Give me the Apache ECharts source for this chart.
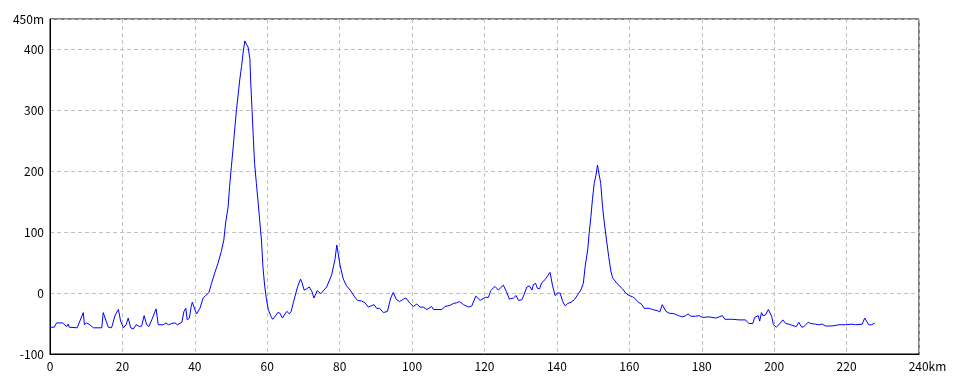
<!DOCTYPE html>
<html>
<head>
<meta charset="utf-8">
<script src="https://cdn.jsdelivr.net/npm/echarts@6/dist/echarts.min.js"></script>
<style>html,body{margin:0;padding:0;background:#fff;}#c{width:960px;height:384px;}</style>
</head>
<body>
<div id="c"></div>
<script>
var distanceKm = [0,1.2,1.8,3.5,4.6,5.0,5.3,5.5,7.5,9.2,9.5,10.1,11.0,12.0,14.3,14.7,15.5,16.1,17.0,18.0,18.9,19.5,20.3,21.0,21.6,22.3,23.0,23.8,24.1,24.7,25.3,26.0,26.7,27.3,28.1,29.3,29.9,30.2,31.3,32.0,32.7,33.6,34.0,34.5,35.2,36.4,37.0,37.5,37.9,38.5,39.0,39.3,40.0,40.5,41.4,42.3,43.0,43.9,44.6,45.5,46.4,47.3,48.0,48.5,49.2,49.6,50.1,50.6,51.0,51.5,52.0,52.4,52.9,53.3,53.8,54.2,54.7,55.2,55.4,55.8,56.1,56.5,57.0,57.5,57.9,58.4,58.8,59.3,59.8,60.3,61.0,61.5,62.2,62.9,63.5,64.2,64.7,65.4,66.1,66.6,67.2,67.9,68.4,69.2,69.6,70.2,70.9,71.6,72.3,72.9,73.8,74.8,76.4,77.8,78.7,79.2,79.7,80.1,81.0,81.9,82.9,84.0,84.9,86.1,87.0,87.9,88.7,89.5,90.2,91.0,92.1,93.2,94.1,94.8,95.6,96.5,97.6,98.3,99.3,100.4,101.3,102.2,103.1,104.1,105.4,105.9,108.2,109.1,110.5,111.4,112.3,113.1,114.2,115.6,116.5,117.6,118.8,120.2,121.1,121.7,122.9,123.8,125.2,126.0,126.9,128.0,128.7,129.4,130.3,130.9,131.7,132.4,133.1,133.5,134.1,134.6,135.2,135.8,136.7,137.4,138.1,138.8,139.5,140.2,140.9,141.6,142.3,143.0,143.9,144.8,145.7,146.6,147.3,147.8,148.5,148.9,149.4,149.8,150.3,150.8,151.2,151.7,152.1,152.6,153.1,153.7,154.3,154.9,155.4,156.3,157.2,158.1,159.0,159.9,160.9,161.6,162.3,163.5,164.1,165.5,166.4,167.8,168.4,169.1,170.1,171.0,172.4,173.6,174.7,175.6,176.2,177.0,178.3,179.3,180.2,182.0,182.5,183.9,184.8,185.7,186.4,188.4,190.3,192.1,193.0,194.1,194.6,195.1,195.6,196.0,196.5,196.9,197.6,198.4,198.8,199.3,199.8,200.6,201.3,202.4,203.2,204.1,205.5,206.1,206.8,207.6,208.2,209.4,210.1,210.5,211.4,212.3,213.3,214.2,216.0,216.5,217.9,218.3,219.7,221.5,222.5,224.3,225.0,226.1,226.9,227.8];
var elevationM = [-56,-56,-49,-49,-55,-51,-56,-57,-57,-32,-52,-49,-52,-57,-57,-32,-46,-56,-57,-36,-27,-46,-57,-52,-41,-57,-59,-52,-49,-55,-54,-37,-52,-55,-44,-26,-52,-55,-52,-49,-52,-50,-52,-49,-52,-48,-30,-25,-44,-41,-22,-15,-27,-34,-25,-8,-4,1,16,33,49,68,87,115,142,175,208,240,268,301,328,350,372,393,414,409,404,385,350,301,262,213,180,148,120,87,44,11,-11,-27,-38,-43,-38,-32,-33,-41,-36,-30,-34,-30,-16,0,11,23,17,5,7,10,3,-8,4,-1,10,30,55,79,81,46,23,12,5,-5,-12,-13,-16,-23,-21,-19,-25,-25,-32,-30,-8,1,-10,-14,-10,-8,-16,-22,-18,-23,-23,-27,-22,-27,-27,-22,-20,-17,-16,-14,-19,-23,-21,-5,-12,-7,-7,4,11,5,13,3,-10,-8,-4,-12,-11,-3,10,12,5,14,16,8,7,17,22,28,34,12,-4,0,0,-14,-21,-17,-15,-11,-3,5,16,44,71,98,126,153,180,194,210,208,180,142,115,87,60,36,25,18,12,7,0,-4,-6,-9,-14,-19,-25,-25,-27,-29,-31,-19,-30,-33,-34,-37,-39,-37,-34,-38,-38,-37,-40,-39,-42,-41,-39,-37,-43,-43,-44,-44,-50,-50,-40,-43,-37,-46,-32,-37,-36,-27,-28,-38,-52,-56,-52,-44,-50,-51,-54,-55,-48,-56,-55,-48,-50,-48,-51,-52,-51,-54,-54,-52,-52,-51,-52,-51,-52,-51,-41,-52,-52,-49];
var xAxisMax = 240, xAxisStep = 20, xUnit = 'km';
var yAxisMin = -100, yAxisMax = 450, yAxisStep = 100, yUnit = 'm';

var chart = echarts.init(document.getElementById('c'), null, {renderer: 'canvas'});
var seriesData = distanceKm.map(function (d, i) { return [d, elevationM[i]]; });
var fontFamily = '"Noto Sans CJK JP", "DejaVu Sans", sans-serif';
chart.setOption({
  animation: false,
  backgroundColor: '#fff',
  grid: { left: 50, right: 41, top: 19, bottom: 30, show: true, borderColor: '#000', borderWidth: 1, backgroundColor: 'transparent' },
  xAxis: {
    type: 'value', min: 0, max: xAxisMax, interval: xAxisStep,
    axisLine: { onZero: false, lineStyle: { color: '#000', width: 1 } },
    axisTick: { show: false },
    splitLine: { show: true, lineStyle: { color: '#c0c0c0', type: [4, 3], width: 1 } },
    axisLabel: {
      color: '#000', fontSize: 12, fontFamily: fontFamily, margin: 6,
      formatter: function (v) { return v === xAxisMax ? '{u|' + v + xUnit + '}' : String(v); },
      rich: { u: { color: '#000', fontSize: 12, fontFamily: fontFamily, padding: [0, 0, 0, 17] } }
    }
  },
  yAxis: {
    type: 'value', min: yAxisMin, max: yAxisMax, interval: yAxisStep,
    axisLine: { show: true, onZero: false, lineStyle: { color: '#000', width: 1 } },
    axisTick: { show: false },
    splitLine: { show: true, lineStyle: { color: '#c0c0c0', type: [4, 3], width: 1 } },
    axisLabel: {
      color: '#000', fontSize: 12, fontFamily: fontFamily, margin: 6,
      showMaxLabel: true,
      formatter: function (v) { return v === yAxisMax ? v + yUnit : String(v); }
    }
  },
  series: [{
    type: 'line', data: seriesData, showSymbol: false, symbol: 'none',
    lineStyle: { color: '#0000ff', width: 1 }, smooth: false
  }]
});
</script>
</body>
</html>
